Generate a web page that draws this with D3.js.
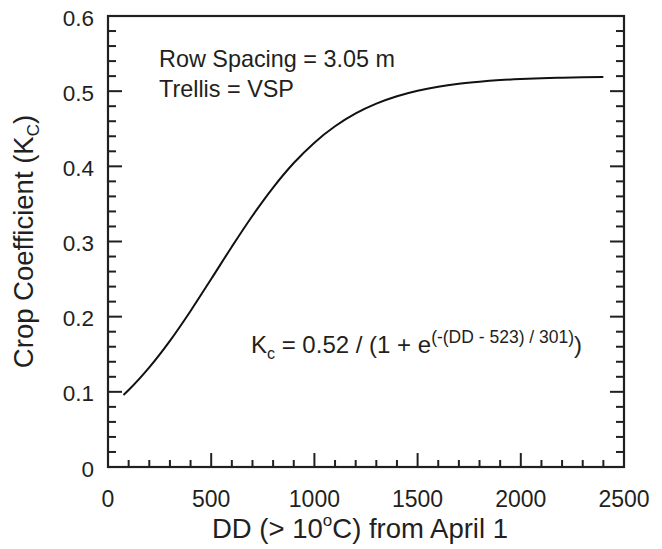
<!DOCTYPE html>
<html><head><meta charset="utf-8">
<script src="https://cdn.jsdelivr.net/npm/d3@7"></script>
<style>body{margin:0;background:#fff}svg{display:block;font-family:"Liberation Sans",Arial,sans-serif}</style>
</head><body>
<svg id="c" width="662" height="549"></svg>
<script>
const dd = [75,100,200,300,400,500,600,700,800,900,1000,1100,1200,1300,1400,1500,1600,1700,1800,1900,2000,2100,2200,2300,2400];
const kc = [0.0958,0.1024,0.1325,0.1678,0.2076,0.2501,0.2931,0.3343,0.3718,0.4044,0.4315,0.4533,0.4704,0.4834,0.4932,0.5005,0.5059,0.5098,0.5126,0.5147,0.5162,0.5173,0.5180,0.5186,0.5190];
const xTicks = [0,500,1000,1500,2000,2500];
const yTicks = [0,0.1,0.2,0.3,0.4,0.5,0.6];

const svg = d3.select("#c");
const L=108, R=624, T=16, B=467;
const x = d3.scaleLinear().domain([0,2500]).range([L,R]);
const y = d3.scaleLinear().domain([0,0.6]).range([B,T]);
const col="#231f20";

// minor ticks
const xMinor = d3.range(0,2501,100).filter(v=>v%500!==0);
const yMinor = d3.range(0,61,2).map(v=>v/100).filter(v=>Math.round(v*100)%10!==0);
const g = svg.append("g");
g.selectAll(".xm").data(xMinor).enter().append("line")
 .attr("x1",d=>x(d)).attr("x2",d=>x(d)).attr("y1",B).attr("y2",B-7).attr("stroke",col).attr("stroke-width",2);
g.selectAll(".xM").data(xTicks).enter().append("line")
 .attr("x1",d=>x(d)).attr("x2",d=>x(d)).attr("y1",B).attr("y2",B-14).attr("stroke",col).attr("stroke-width",2);
[[L,1],[R,-1]].forEach(([x0,s])=>{
  g.selectAll(null).data(yMinor).enter().append("line")
   .attr("x1",x0).attr("x2",x0+s*8).attr("y1",d=>y(d)).attr("y2",d=>y(d)).attr("stroke",col).attr("stroke-width",2);
  g.selectAll(null).data(yTicks).enter().append("line")
   .attr("x1",x0).attr("x2",x0+s*14).attr("y1",d=>y(d)).attr("y2",d=>y(d)).attr("stroke",col).attr("stroke-width",2);
});
svg.append("rect").attr("x",L).attr("y",T).attr("width",R-L).attr("height",B-T)
 .attr("fill","none").attr("stroke",col).attr("stroke-width",2.2);

// tick labels
svg.selectAll(".xl").data(xTicks).enter().append("text")
 .attr("x",d=>x(d)).attr("y",B+40).attr("text-anchor","middle").attr("font-size",23).attr("fill",col)
 .text(d=>d);
svg.selectAll(".yl").data(yTicks).enter().append("text")
 .attr("x",L-14).attr("y",d=>y(d)+9.5).attr("text-anchor","end").attr("font-size",22.5).attr("fill",col)
 .text(d=>d===0?"0":d3.format(".1f")(d));

// curve
const line = d3.line().x((d,i)=>x(dd[i])).y((d,i)=>y(kc[i])).curve(d3.curveMonotoneX);
svg.append("path").attr("d",line(kc)).attr("fill","none").attr("stroke","#111").attr("stroke-width",2);

// annotations
svg.append("text").attr("x",159).attr("y",67).attr("font-size",23.4).attr("fill",col).text("Row Spacing = 3.05 m");
svg.append("text").attr("x",159).attr("y",97).attr("font-size",23.4).attr("fill",col).text("Trellis = VSP");
const f = svg.append("text").attr("x",251).attr("y",353).attr("font-size",24).attr("fill",col);
f.append("tspan").text("K");
f.append("tspan").attr("font-size",16).attr("dy",6).text("c");
f.append("tspan").attr("dy",-6).text(" = 0.52 / (1 + e");
f.append("tspan").attr("font-size",17.5).attr("dy",-10).text("(-(DD - 523) / 301)");
f.append("tspan").attr("dy",10).text(")");

// axis titles
const xt = svg.append("text").attr("x",(L+R)/2-6).attr("y",538).attr("text-anchor","middle").attr("font-size",27.5).attr("fill",col);
xt.append("tspan").text("DD (> 10");
xt.append("tspan").attr("font-size",17).attr("dy",-12).text("o");
xt.append("tspan").attr("dy",12).text("C) from April 1");
const yt = svg.append("text").attr("transform",`translate(33,${(T+B)/2}) rotate(-90)`).attr("text-anchor","middle").attr("font-size",27.5).attr("fill",col);
yt.append("tspan").text("Crop Coefficient (K");
yt.append("tspan").attr("font-size",17).attr("dy",6).text("C");
yt.append("tspan").attr("dy",-6).text(")");
</script>
</body></html>
